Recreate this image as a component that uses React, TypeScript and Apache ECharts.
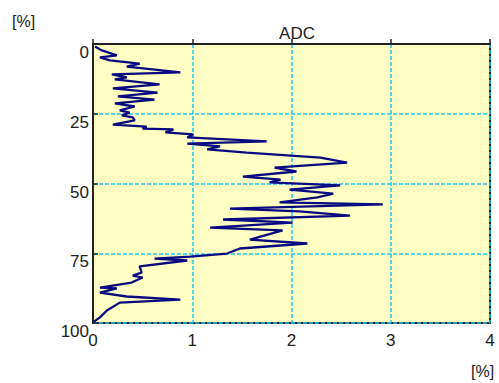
import React, { useEffect, useRef } from "react";
import * as echarts from "echarts";

const titleText = "ADC";
const unitLabel = "[%]";
const xTicks = [0, 1, 2, 3, 4];
const yTicks = [0, 25, 50, 75, 100];

// depth [%] along the vertical axis
const depth = [
  0.9, 2.3, 4.1, 4.8, 5.9, 7.0, 8.1, 10.2, 10.9, 12.0, 12.7, 14.5, 15.9, 17.4, 18.8, 19.9,
  21.3, 22.4, 23.8, 24.6, 25.6, 26.3, 27.4, 28.9, 29.6, 30.3, 30.6, 31.7, 32.4, 33.5, 34.9,
  35.7, 36.7, 37.8, 38.9, 40.7, 42.5, 44.3, 45.7, 47.5, 48.6, 49.6, 50.7, 52.2, 53.6, 55.0,
  56.8, 57.5, 59.0, 60.0, 61.5, 62.9, 64.0, 65.8, 66.8, 68.3, 70.1, 71.5, 73.3, 75.1, 76.2,
  76.9, 77.6, 79.7, 81.9, 83.0, 83.7, 85.5, 87.3, 87.6, 89.1, 90.5, 91.6, 92.7, 95.5, 98.0, 99.5,
];
// ADC value [%] along the horizontal axis
const adc = [
  0.02, 0.09, 0.24, 0.07, 0.17, 0.47, 0.34, 0.88, 0.19, 0.34, 0.22, 0.67, 0.2, 0.65, 0.25, 0.62,
  0.22, 0.42, 0.27, 0.37, 0.29, 0.4, 0.42, 0.2, 0.54, 0.5, 0.81, 0.73, 1.01, 0.95, 1.75,
  0.95, 1.28, 1.15, 1.55, 2.29, 2.56, 1.83, 2.05, 1.51, 1.89, 1.78, 2.49, 1.98, 2.42, 2.26,
  1.88, 2.92, 1.38, 2.08, 2.59, 1.31, 2.01, 1.18, 1.91, 1.76, 1.58, 2.16, 1.48, 1.35, 0.98,
  0.62, 0.95, 0.47, 0.49, 0.4, 0.5, 0.39, 0.07, 0.24, 0.07, 0.34, 0.88, 0.27, 0.14, 0.07, 0.01,
];

export default function App() {
  const ref = useRef<HTMLDivElement>(null);
  useEffect(() => {
    document.body.style.margin = "0";
    const chart = echarts.init(ref.current!, undefined, { renderer: "svg" });
    const font = "Liberation Sans, Arial, sans-serif";
    chart.setOption({
      animation: false,
      backgroundColor: "#ffffff",
      title: {
        text: titleText,
        left: 292,
        top: 20,
        textAlign: "center",
        textStyle: { fontFamily: font, fontSize: 17, fontWeight: "normal", color: "#222" },
      },
      graphic: [
        { type: "text", left: 12, top: 13, style: { text: unitLabel, fontFamily: font, fontSize: 16, fill: "#222" } },
        { type: "text", left: 471, top: 363, style: { text: unitLabel, fontFamily: font, fontSize: 16, fill: "#222" } },
      ],
      grid: {
        left: 93,
        top: 44,
        right: 9,
        bottom: 60,
        show: true,
        backgroundColor: "#ffffc4",
        borderColor: "#222",
        borderWidth: 2,
      },
      xAxis: {
        type: "value",
        min: xTicks[0],
        max: xTicks[xTicks.length - 1],
        interval: 1,
        axisLine: { show: true, lineStyle: { color: "#222", width: 2 } },
        axisTick: { show: true, inside: true, length: 5, lineStyle: { color: "#222", width: 1.5 } },
        axisLabel: { fontFamily: font, fontSize: 17, color: "#222", margin: 9 },
        splitLine: { show: true, lineStyle: { color: "#1ec8f0", type: [4, 2], width: 1.5 } },
      },
      yAxis: {
        type: "value",
        inverse: true,
        min: yTicks[0],
        max: yTicks[yTicks.length - 1],
        interval: 25,
        axisLine: { show: true, lineStyle: { color: "#222", width: 2 } },
        axisTick: { show: true, inside: true, length: 5, lineStyle: { color: "#222", width: 1.5 } },
        axisLabel: { fontFamily: font, fontSize: 17, color: "#222", margin: 4, verticalAlign: "top" },
        splitLine: { show: true, lineStyle: { color: "#1ec8f0", type: [4, 2], width: 1.5 } },
      },
      series: [
        {
          type: "line",
          data: depth.map((d, i) => [adc[i], d]),
          showSymbol: false,
          lineStyle: { color: "#0a0a80", width: 2.3 },
        },
      ],
    });
    return () => chart.dispose();
  }, []);
  return <div ref={ref} style={{ width: 499, height: 383 }} />;
}
